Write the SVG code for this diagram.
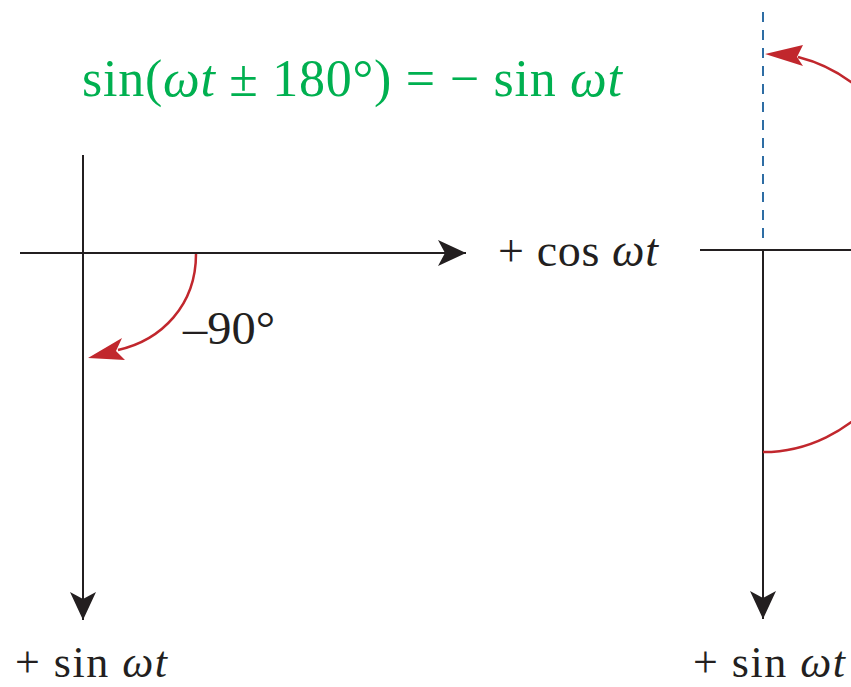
<svg xmlns="http://www.w3.org/2000/svg" width="851" height="687" viewBox="0 0 851 687">
<style>
.ax{stroke:#231f20;stroke-width:2;fill:none}
.arc{stroke:#c1272d;stroke-width:2.5;fill:none}
.red{fill:#c1272d}
.lbl{font-family:"Liberation Serif",serif;fill:#231f20}
.it{font-style:italic}
.title{font-family:"Liberation Serif",serif;fill:#00b050;font-size:52px}
</style>
<defs>
<marker id="ah" markerUnits="userSpaceOnUse" markerWidth="30" markerHeight="28" viewBox="-29 -14 30 28" refX="0" refY="0" orient="auto">
<path d="M0,0 L-28,-13 L-21,0 L-28,13 Z" fill="#231f20"/>
</marker>
</defs>
<rect width="851" height="687" fill="#ffffff"/>
<g id="title">
<text class="title" x="82" y="96" textLength="540" lengthAdjust="spacing">sin(<tspan class="it">ωt</tspan> ± 180°) = − sin <tspan class="it">ωt</tspan></text>
</g>
<g id="connectors">
<line class="ax" x1="83" y1="155" x2="83" y2="620" marker-end="url(#ah)"/>
<line class="ax" x1="20" y1="253" x2="466" y2="253" marker-end="url(#ah)"/>
<line class="ax" x1="700" y1="250" x2="851" y2="250"/>
<line class="ax" x1="763" y1="250" x2="763" y2="619" marker-end="url(#ah)"/>
<line x1="763" y1="12" x2="763" y2="240" stroke="#2e6da4" stroke-width="2" stroke-dasharray="10 8"/>
<path class="arc" d="M196,254 C196,305 162,340 118,350"/>
<path class="red" d="M88,358 L122,338 L116,351 L125,360 Z"/>
<path class="arc" d="M880,109 A167,200 0 0 0 798,57"/>
<path class="red" d="M765,54 L803,45 L797,57 L803,66 Z"/>
<path class="arc" d="M763,452 A167,200 0 0 0 880,395"/>
</g>
<g id="labels">
<text class="lbl" x="183" y="344" font-size="47" textLength="92" lengthAdjust="spacingAndGlyphs">–90°</text>
<text class="lbl" x="498" y="266" font-size="46" textLength="160" lengthAdjust="spacing">+ cos <tspan class="it">ωt</tspan></text>
<text class="lbl" x="15" y="677" font-size="44" textLength="152" lengthAdjust="spacing">+ sin <tspan class="it">ωt</tspan></text>
<text class="lbl" x="693" y="677" font-size="44" textLength="152" lengthAdjust="spacing">+ sin <tspan class="it">ωt</tspan></text>
</g>
</svg>
